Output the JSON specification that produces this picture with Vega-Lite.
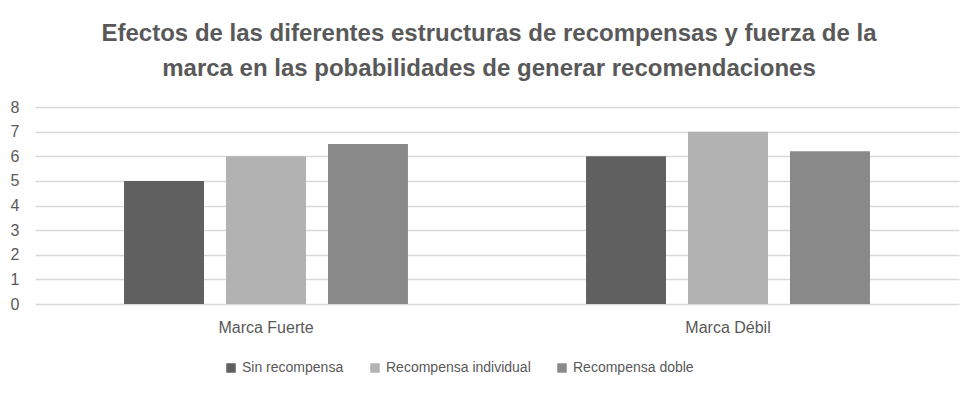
{
  "$schema": "https://vega.github.io/schema/vega-lite/v6.json",
  "width": 924,
  "height": 197,
  "autosize": {"type": "none"},
  "padding": {"left": 35, "top": 107, "right": 21, "bottom": 89},
  "background": "white",
  "title": {
    "text": ["Efectos de las diferentes estructuras de recompensas y fuerza de la", "marca en las pobabilidades de generar recomendaciones"],
    "font": "Liberation Sans",
    "fontSize": 24,
    "fontWeight": "bold",
    "color": "#595959",
    "anchor": "middle",
    "frame": "group",
    "lineHeight": 35,
    "offset": 18,
    "dx": -8
  },
  "data": {
    "values": [
      {"marca": "Marca Fuerte", "tipo": "Sin recompensa", "valor": 5},
      {"marca": "Marca Fuerte", "tipo": "Recompensa individual", "valor": 6},
      {"marca": "Marca Fuerte", "tipo": "Recompensa doble", "valor": 6.5},
      {"marca": "Marca Débil", "tipo": "Sin recompensa", "valor": 6},
      {"marca": "Marca Débil", "tipo": "Recompensa individual", "valor": 7},
      {"marca": "Marca Débil", "tipo": "Recompensa doble", "valor": 6.2}
    ]
  },
  "mark": {"type": "bar"},
  "encoding": {
    "x": {
      "field": "marca",
      "type": "nominal",
      "sort": ["Marca Fuerte", "Marca Débil"],
      "scale": {"paddingInner": 0, "paddingOuter": 0},
      "axis": {
        "title": null,
        "labelAngle": 0,
        "domain": false,
        "ticks": false,
        "labelPadding": 15,
        "labelFont": "Liberation Sans",
        "labelFontSize": 16,
        "labelColor": "#595959"
      }
    },
    "xOffset": {
      "field": "tipo",
      "type": "nominal",
      "sort": ["Sin recompensa", "Recompensa individual", "Recompensa doble"],
      "scale": {"paddingInner": 0.216, "paddingOuter": 0.873}
    },
    "y": {
      "field": "valor",
      "type": "quantitative",
      "scale": {"domain": [0, 8], "nice": false},
      "axis": {
        "title": null,
        "values": [0, 1, 2, 3, 4, 5, 6, 7, 8],
        "labelOverlap": false,
        "domain": false,
        "ticks": false,
        "labelPadding": 16,
        "labelFont": "Liberation Sans",
        "labelFontSize": 16,
        "labelColor": "#595959",
        "gridColor": "#d9d9d9",
        "gridWidth": 1.5
      }
    },
    "color": {
      "field": "tipo",
      "type": "nominal",
      "sort": ["Sin recompensa", "Recompensa individual", "Recompensa doble"],
      "scale": {
        "domain": ["Sin recompensa", "Recompensa individual", "Recompensa doble"],
        "range": ["#606060", "#b2b2b2", "#898989"]
      },
      "legend": {
        "title": null,
        "orient": "none",
        "legendX": 189,
        "legendY": 254,
        "direction": "horizontal",
        "symbolType": "square",
        "symbolSize": 90,
        "symbolStrokeWidth": 0,
        "labelFont": "Liberation Sans",
        "labelFontSize": 14,
        "labelColor": "#595959",
        "columnPadding": 24,
        "labelOffset": 4
      }
    }
  },
  "config": {
    "view": {"stroke": null}
  }
}
